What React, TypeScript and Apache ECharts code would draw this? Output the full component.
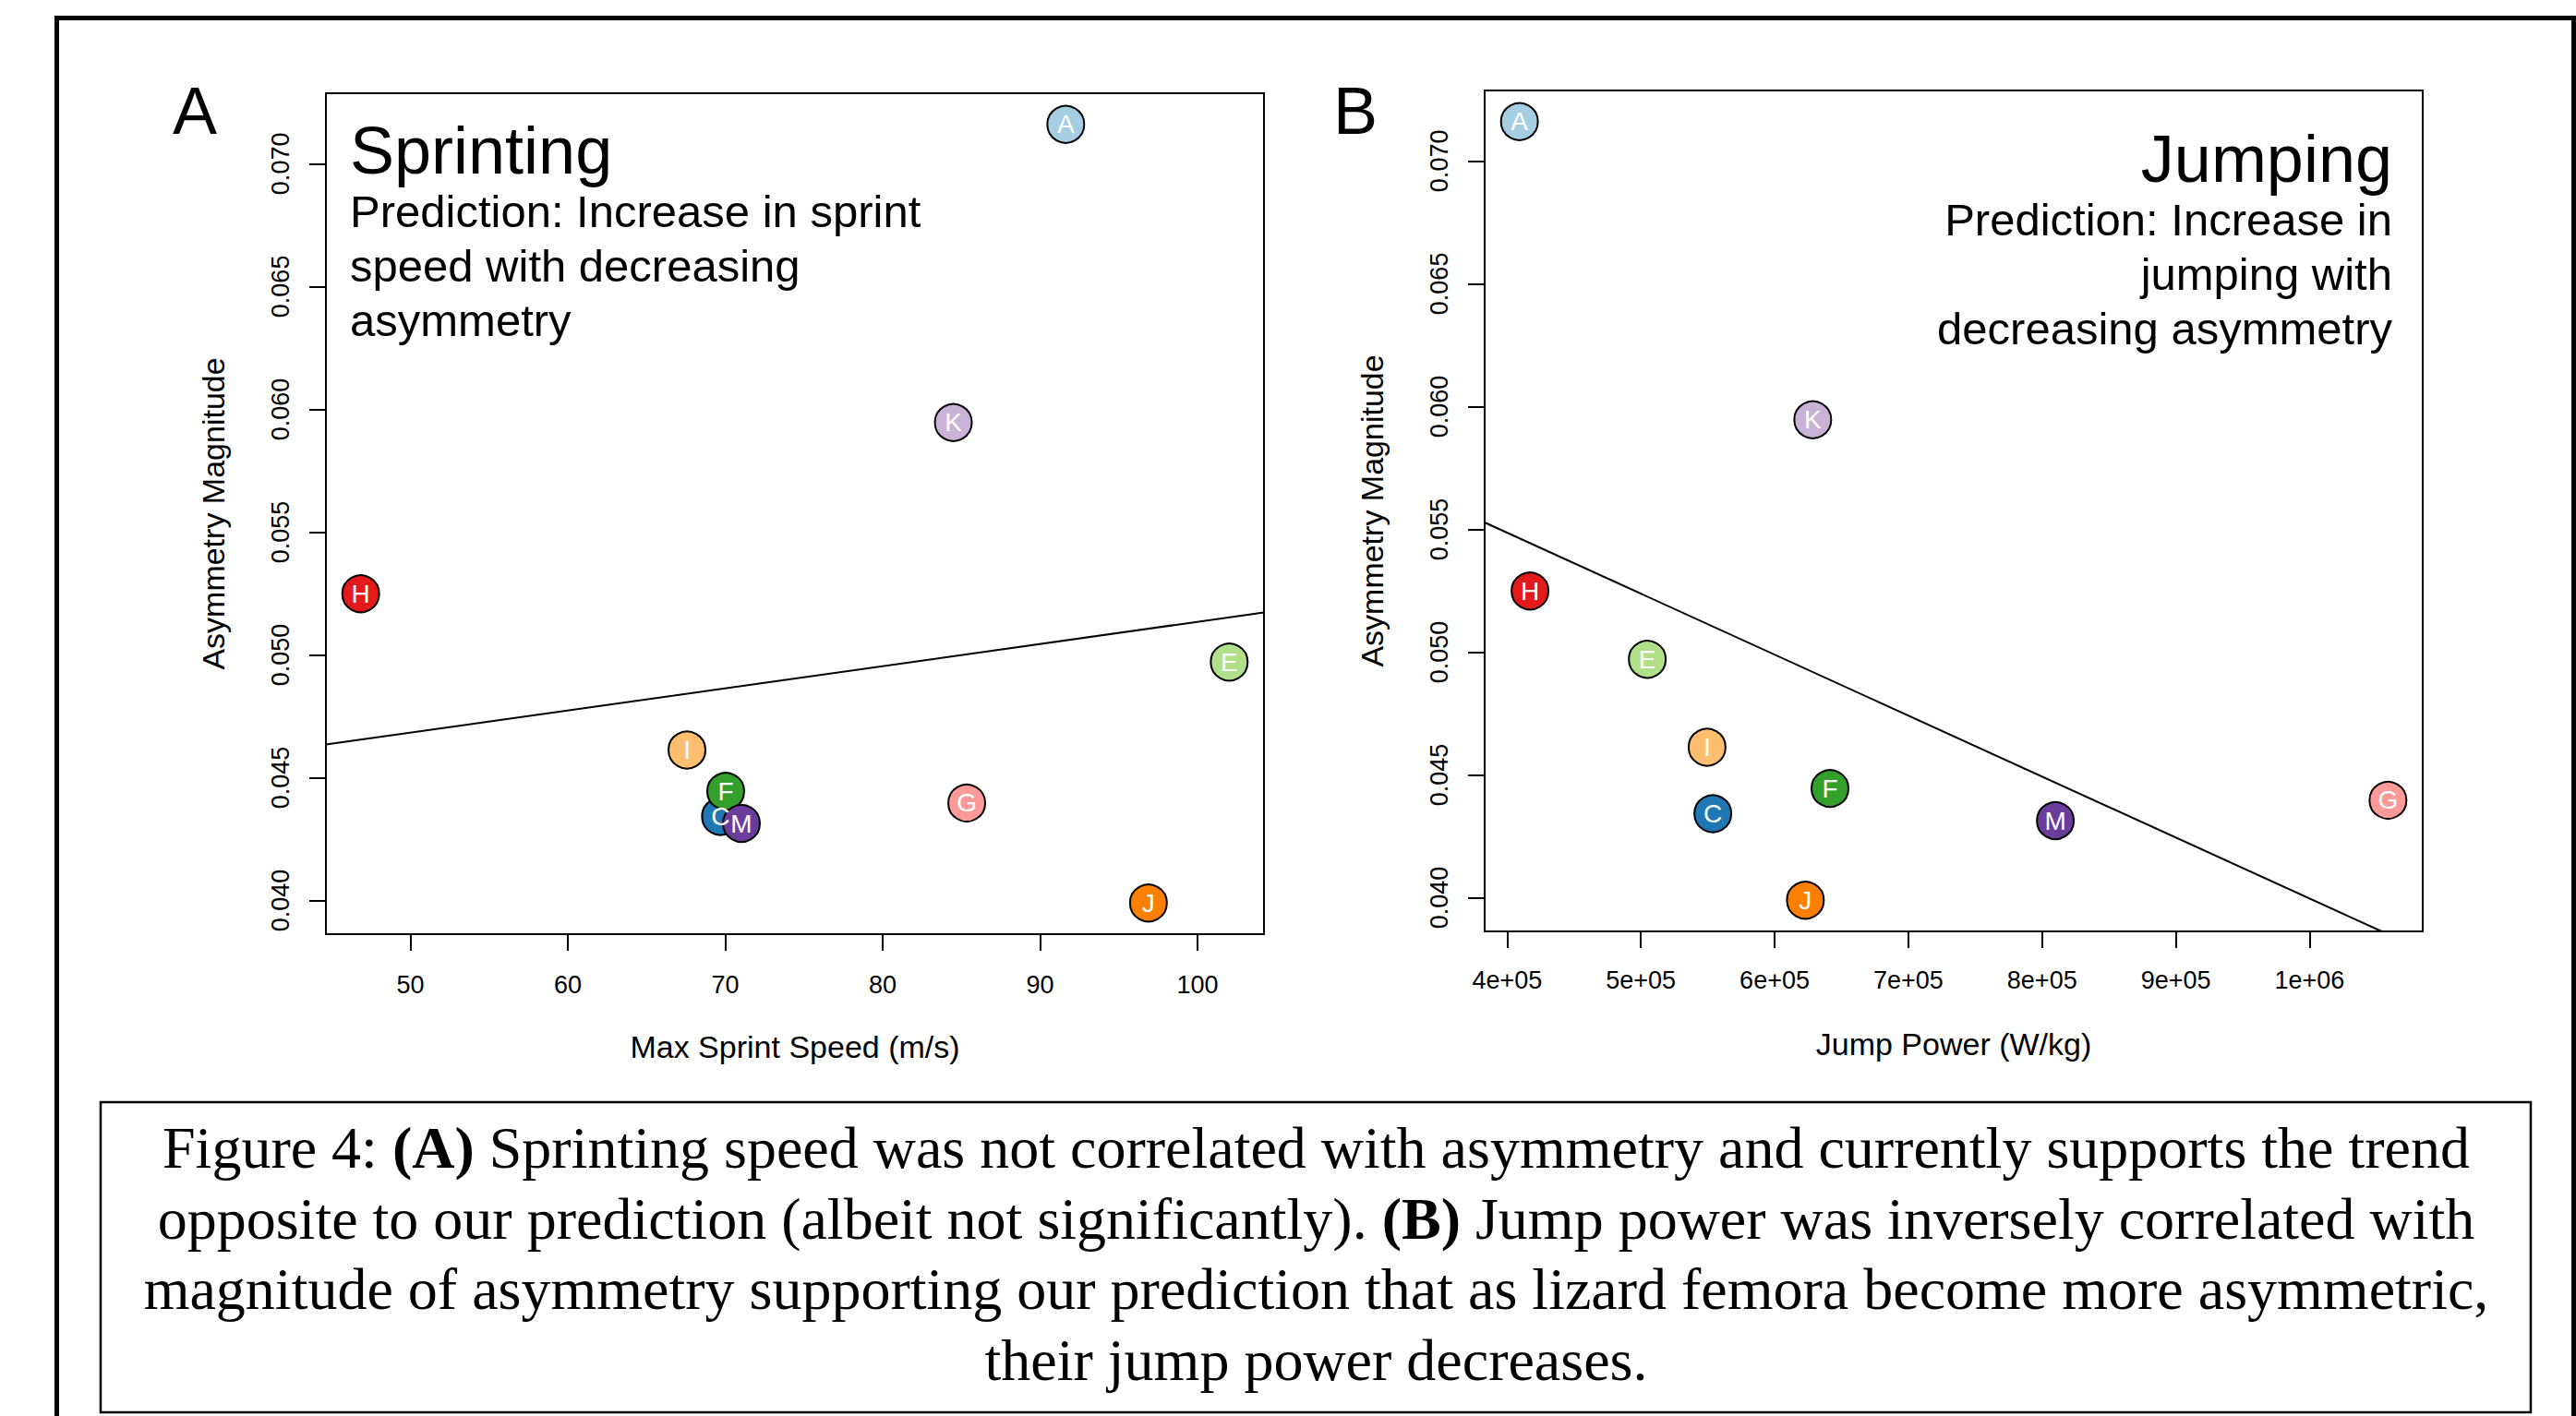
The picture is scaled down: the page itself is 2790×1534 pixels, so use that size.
import React, { useEffect, useRef } from "react";
import * as echarts from "echarts";

// ---------- data ----------
const species = ["A", "C", "E", "F", "G", "H", "I", "J", "K", "M"];
const speciesColors = [
  "#A6CEE3", "#1F78B4", "#B2DF8A", "#33A02C", "#FB9A99",
  "#E31A1C", "#FDBF6F", "#FF7F00", "#CAB2D6", "#6A3D9A",
];
const asymmetry = [0.0716, 0.04342, 0.04971, 0.04445, 0.04397, 0.05249, 0.04613, 0.0399, 0.05946, 0.04314];
const sprintSpeed = [91.63, 69.7, 102.01, 70.03, 85.34, 46.85, 67.57, 96.88, 84.49, 71.03];
const jumpPower = [409200, 553800, 504800, 641400, 1058600, 417100, 549500, 623000, 628500, 809900];

const sprintTrend = [
  [44.64, 0.04635],
  [104.22, 0.05173],
];
const jumpTrend = [
  [383200, 0.05528],
  [1053900, 0.03863],
];

const asymTicks = [0.04, 0.045, 0.05, 0.055, 0.06, 0.065, 0.07];
const asymTickLabels = ["0.040", "0.045", "0.050", "0.055", "0.060", "0.065", "0.070"];
const sprintTicks = [50, 60, 70, 80, 90, 100];
const sprintTickLabels = ["50", "60", "70", "80", "90", "100"];
const jumpTicks = [400000, 500000, 600000, 700000, 800000, 900000, 1000000];
const jumpTickLabels = ["4e+05", "5e+05", "6e+05", "7e+05", "8e+05", "9e+05", "1e+06"];

const asymRange = [0.03863, 0.07287];
const sprintRange = [44.64, 104.22];
const jumpRange = [383200, 1084600];

const captionText =
  "Figure 4: {b|(A)} Sprinting speed was not correlated with asymmetry and currently supports the trend\n" +
  "opposite to our prediction (albeit not significantly). {b|(B)} Jump power was inversely correlated with\n" +
  "magnitude of asymmetry supporting our prediction that as lizard femora become more asymmetric,\n" +
  "their jump power decreases.";

// ---------- styling ----------
const SANS = "'Liberation Sans', Arial, Helvetica, sans-serif";
const SERIF = "'Liberation Serif', 'Times New Roman', serif";

function lookup(ticks: number[], labels: string[], v: number) {
  let best = 0;
  for (let i = 1; i < ticks.length; i++) {
    if (Math.abs(ticks[i] - v) < Math.abs(ticks[best] - v)) best = i;
  }
  return labels[best];
}

function makeX(idx: number, range: number[], ticks: number[], labels: string[], name: string, margin: number) {
  return {
    type: "value",
    gridIndex: idx,
    min: range[0],
    max: range[1],
    position: "bottom",
    splitLine: { show: false },
    axisLine: { show: false },
    axisTick: {
      show: true,
      inside: false,
      length: 18,
      customValues: ticks,
      lineStyle: { color: "#000", width: 2 },
    },
    axisLabel: {
      show: true,
      customValues: ticks,
      margin,
      color: "#000",
      fontSize: 27,
      fontFamily: SANS,
      formatter: (v: number) => lookup(ticks, labels, v),
    },
    name,
    nameLocation: "middle",
    nameGap: 105,
    nameTextStyle: { color: "#000", fontSize: 34, fontFamily: SANS },
  };
}

function makeY(idx: number) {
  return {
    type: "value",
    gridIndex: idx,
    min: asymRange[0],
    max: asymRange[1],
    position: "left",
    splitLine: { show: false },
    axisLine: { show: false },
    axisTick: {
      show: true,
      inside: false,
      length: 18,
      customValues: asymTicks,
      lineStyle: { color: "#000", width: 2 },
    },
    axisLabel: {
      show: true,
      customValues: asymTicks,
      rotate: 90,
      margin: 36,
      color: "#000",
      fontSize: 27,
      fontFamily: SANS,
      formatter: (v: number) => lookup(asymTicks, asymTickLabels, v),
    },
    name: "Asymmetry Magnitude",
    nameLocation: "middle",
    nameGap: 105,
    nameTextStyle: { color: "#000", fontSize: 34, fontFamily: SANS },
  };
}

function scatterSeries(idx: number, xs: number[]) {
  return {
    type: "scatter",
    xAxisIndex: idx,
    yAxisIndex: idx,
    symbol: "circle",
    symbolSize: 40,
    z: 3,
    itemStyle: { borderColor: "#000", borderWidth: 2, opacity: 1 },
    label: {
      show: true,
      position: "inside",
      formatter: "{b}",
      color: "#fff",
      fontSize: 28,
      fontFamily: SANS,
    },
    data: species.map((s, i) => ({
      name: s,
      value: [xs[i], asymmetry[i]],
      itemStyle: { color: speciesColors[i] },
    })),
  };
}

function trendSeries(idx: number, pts: number[][]) {
  return {
    type: "line",
    xAxisIndex: idx,
    yAxisIndex: idx,
    symbol: "none",
    z: 2,
    clip: true,
    lineStyle: { color: "#000", width: 2 },
    data: pts,
  };
}

function txt(text: string, x: number, y: number, size: number, align: string, lineHeight: number) {
  return {
    type: "text",
    silent: true,
    style: {
      text,
      x,
      y,
      fill: "#000",
      fontSize: size,
      fontFamily: SANS,
      align,
      verticalAlign: "top",
      lineHeight,
    },
  };
}

const option = {
  animation: false,
  backgroundColor: "#fff",
  grid: [
    { left: 353, top: 101, width: 1016, height: 911, show: true, borderColor: "#000", borderWidth: 2, backgroundColor: "transparent", containLabel: false },
    { left: 1608, top: 98, width: 1016, height: 911, show: true, borderColor: "#000", borderWidth: 2, backgroundColor: "transparent", containLabel: false },
  ],
  xAxis: [
    makeX(0, sprintRange, sprintTicks, sprintTickLabels, "Max Sprint Speed (m/s)", 41),
    makeX(1, jumpRange, jumpTicks, jumpTickLabels, "Jump Power (W/kg)", 39),
  ],
  yAxis: [makeY(0), makeY(1)],
  series: [
    trendSeries(0, sprintTrend),
    scatterSeries(0, sprintSpeed),
    trendSeries(1, jumpTrend),
    scatterSeries(1, jumpPower),
  ],
  graphic: [
    {
      type: "rect",
      silent: true,
      shape: { x: 61.5, y: 19.5, width: 2726, height: 1700 },
      style: { fill: "none", stroke: "#000", lineWidth: 5 },
    },
    {
      type: "rect",
      silent: true,
      shape: { x: 109, y: 1194, width: 2632, height: 336 },
      style: { fill: "none", stroke: "#000", lineWidth: 2.5 },
    },
    txt("A", 187, 84, 72, "left", 72),
    txt("B", 1444, 84, 72, "left", 72),
    txt("Sprinting", 379, 127, 72, "left", 72),
    txt("Prediction: Increase in sprint\nspeed with decreasing\nasymmetry", 379, 199, 49, "left", 59),
    txt("Jumping", 2591, 136, 72, "right", 72),
    txt("Prediction: Increase in\njumping with\ndecreasing asymmetry", 2591, 208, 49, "right", 59),
    {
      type: "text",
      silent: true,
      style: {
        text: captionText,
        x: 1425.5,
        y: 1205,
        fill: "#000",
        fontSize: 64,
        fontFamily: SERIF,
        align: "center",
        verticalAlign: "top",
        lineHeight: 76.7,
        rich: {
          b: { fontSize: 64, fontFamily: SERIF, fontWeight: "bold", fill: "#000", lineHeight: 76.7 },
        },
      },
    },
  ],
};

export default function App() {
  const ref = useRef<HTMLDivElement>(null);
  useEffect(() => {
    if (!ref.current) return;
    const chart = echarts.init(ref.current, null, { renderer: "svg" });
    chart.setOption(option as any);
    return () => chart.dispose();
  }, []);
  return (
    <div
      ref={ref}
      style={{ position: "fixed", left: 0, top: 0, width: 2790, height: 1534, background: "#fff" }}
    />
  );
}
